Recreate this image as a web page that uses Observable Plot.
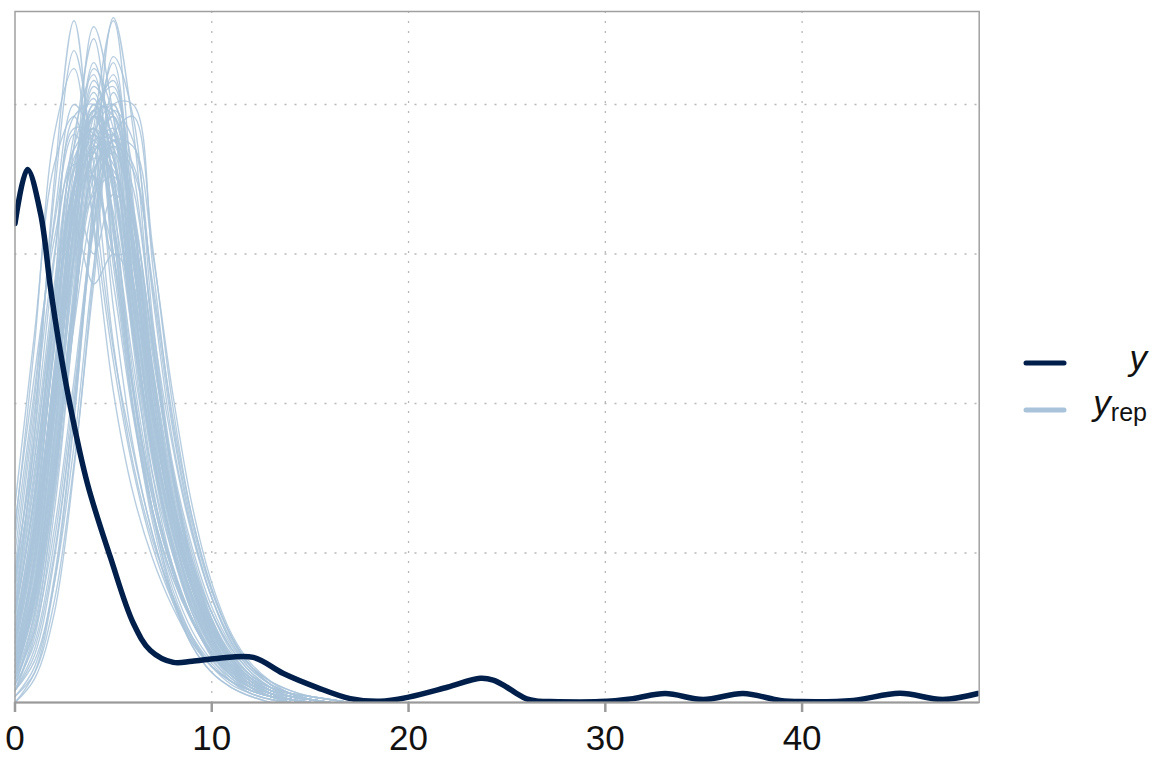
<!DOCTYPE html>
<html>
<head>
<meta charset="utf-8">
<script src="https://cdn.jsdelivr.net/npm/d3@7"></script>
<script src="https://cdn.jsdelivr.net/npm/@observablehq/plot@0.6"></script>
<style>
  html, body { margin: 0; padding: 0; background: #fff; }
  #wrap { position: relative; width: 1152px; height: 768px; }
  #legend { position: absolute; left: 0; top: 0; pointer-events: none; }
</style>
</head>
<body>
<div id="wrap"></div>
<script>
// ---------- data ----------
const X_TICKS = [0, 10, 20, 30, 40];
const X_GRID = [10, 20, 30, 40];
const Y_GRID = [0.05, 0.10, 0.15, 0.20];

const yObsX = [0, 0.63, 1.3, 1.8, 2.21, 2.82, 3.68, 4.85, 6.02, 6.88, 8.05, 9.0, 10.28, 12.11, 13.64, 15.36, 17.04,
  18.56, 20.0, 21.97, 23.64, 24.3, 25.0, 25.5, 26.0, 26.5, 27.2, 29.73, 31.4, 33.04, 34.97, 37.0, 38.88, 39.9, 42.6, 44.97, 47.15, 48.93];
const yObsD = [0.1602, 0.1783, 0.1635, 0.1388, 0.1211, 0.0987, 0.0732, 0.0485, 0.0264, 0.0174, 0.0134, 0.0138, 0.0147, 0.0151, 0.0097, 0.0050, 0.0013,
  0.0004, 0.0018, 0.0051, 0.0081, 0.0075, 0.0051, 0.0030, 0.0012, 0.0005, 0.0003, 0.0003, 0.0013, 0.0030, 0.0010, 0.0030, 0.0007, 0.0003, 0.0007, 0.0031, 0.0010, 0.0030];

// replicated densities, sampled at x = 0, 1, 2, ...
const repX = [0, 1, 2, 3, 4, 5, 6, 7, 8, 9, 10, 11, 12, 13, 14, 15, 16, 17];
const yrep = [
  [0.050,0.102,0.162,0.200,0.186,0.132,0.086,0.056,0.035,0.020,0.012,0.007,0.004,0.002,0.001,0],
  [0.040,0.095,0.170,0.218,0.180,0.120,0.080,0.054,0.036,0.022,0.013,0.007,0.003,0.001,0],
  [0.060,0.110,0.155,0.180,0.176,0.140,0.096,0.062,0.038,0.022,0.012,0.006,0.003,0.001,0],
  [0.030,0.090,0.175,0.228,0.170,0.118,0.084,0.056,0.034,0.019,0.010,0.005,0.002,0],
  [0.045,0.098,0.150,0.185,0.192,0.150,0.098,0.060,0.036,0.021,0.012,0.007,0.004,0.002,0.001,0],
  [0.055,0.105,0.160,0.190,0.175,0.150,0.105,0.064,0.036,0.019,0.010,0.005,0.002,0],
  [0.032,0.074,0.130,0.180,0.198,0.162,0.110,0.071,0.045,0.028,0.016,0.009,0.005,0.003,0.001,0],
  [0.024,0.066,0.128,0.190,0.210,0.158,0.100,0.064,0.042,0.027,0.016,0.009,0.005,0.002,0.001,0],
  [0.040,0.082,0.134,0.172,0.184,0.164,0.122,0.080,0.050,0.030,0.017,0.009,0.004,0.002,0],
  [0.020,0.060,0.122,0.186,0.222,0.170,0.104,0.064,0.040,0.024,0.014,0.008,0.004,0.002,0.001,0],
  [0.036,0.078,0.128,0.174,0.196,0.176,0.120,0.072,0.044,0.027,0.016,0.009,0.005,0.003,0.001,0],
  [0.028,0.070,0.136,0.196,0.200,0.150,0.104,0.070,0.046,0.028,0.015,0.007,0.003,0.001,0],
  [0.030,0.068,0.120,0.172,0.190,0.172,0.128,0.084,0.052,0.030,0.016,0.008,0.004,0.002,0.001,0],
  [0.044,0.086,0.140,0.182,0.192,0.156,0.106,0.068,0.044,0.028,0.017,0.010,0.006,0.003,0.002,0.001,0],
  [0.016,0.048,0.100,0.160,0.196,0.186,0.136,0.088,0.057,0.035,0.020,0.012,0.007,0.004,0.002,0.001,0],
  [0.012,0.042,0.094,0.160,0.212,0.196,0.132,0.082,0.052,0.032,0.019,0.011,0.006,0.003,0.001,0],
  [0.022,0.056,0.104,0.156,0.186,0.180,0.142,0.096,0.062,0.038,0.022,0.012,0.006,0.003,0.001,0],
  [0.010,0.040,0.098,0.170,0.226,0.196,0.124,0.076,0.046,0.028,0.016,0.009,0.005,0.002,0.001,0],
  [0.026,0.060,0.108,0.158,0.182,0.178,0.146,0.100,0.064,0.040,0.024,0.014,0.008,0.004,0.002,0.001,0],
  [0.014,0.050,0.106,0.166,0.200,0.182,0.132,0.088,0.058,0.036,0.021,0.011,0.005,0.002,0.001,0],
  [0.018,0.052,0.100,0.150,0.184,0.192,0.148,0.094,0.058,0.034,0.019,0.010,0.005,0.002,0],
  [0.008,0.036,0.090,0.162,0.206,0.192,0.138,0.090,0.058,0.036,0.021,0.012,0.007,0.004,0.002,0.001,0],
  [0.020,0.054,0.102,0.148,0.170,0.176,0.152,0.108,0.068,0.040,0.022,0.012,0.006,0.003,0.001,0],
  [0.012,0.046,0.104,0.172,0.214,0.184,0.128,0.084,0.054,0.033,0.019,0.010,0.005,0.002,0],
  [0.024,0.058,0.110,0.166,0.190,0.174,0.134,0.094,0.062,0.039,0.023,0.013,0.007,0.004,0.002,0.001,0],
  [0.016,0.046,0.096,0.158,0.200,0.196,0.140,0.086,0.052,0.031,0.018,0.010,0.005,0.002,0.001,0],
  [0.010,0.032,0.074,0.130,0.180,0.196,0.162,0.112,0.072,0.046,0.028,0.016,0.009,0.005,0.003,0.001,0],
  [0.006,0.026,0.068,0.128,0.186,0.214,0.164,0.104,0.066,0.042,0.026,0.015,0.008,0.004,0.002,0.001,0],
  [0.014,0.038,0.080,0.132,0.172,0.184,0.164,0.120,0.078,0.048,0.028,0.015,0.008,0.004,0.002,0.001,0],
  [0.004,0.022,0.064,0.128,0.192,0.228,0.168,0.100,0.060,0.038,0.024,0.014,0.008,0.004,0.002,0],
  [0.012,0.034,0.076,0.132,0.176,0.190,0.166,0.118,0.076,0.046,0.027,0.015,0.008,0.004,0.002,0.001,0],
  [0.008,0.030,0.072,0.136,0.190,0.200,0.154,0.104,0.068,0.044,0.027,0.016,0.009,0.005,0.003,0.002,0.001,0],
  [0.016,0.040,0.082,0.136,0.178,0.186,0.156,0.112,0.074,0.046,0.027,0.014,0.007,0.003,0.001,0],
  [0.006,0.028,0.074,0.140,0.196,0.208,0.156,0.100,0.064,0.040,0.024,0.013,0.007,0.003,0.001,0],
  [0.010,0.034,0.078,0.134,0.178,0.188,0.160,0.116,0.078,0.050,0.030,0.017,0.009,0.005,0.003,0.001,0],
  [0.012,0.036,0.076,0.126,0.168,0.188,0.172,0.124,0.078,0.046,0.026,0.014,0.007,0.003,0.001,0],
  [0.004,0.016,0.048,0.100,0.160,0.198,0.188,0.136,0.088,0.057,0.035,0.020,0.012,0.007,0.004,0.002,0.001,0],
  [0.002,0.012,0.042,0.096,0.164,0.216,0.196,0.128,0.080,0.052,0.032,0.019,0.011,0.006,0.003,0.001,0],
  [0.006,0.020,0.054,0.104,0.158,0.186,0.178,0.140,0.096,0.062,0.038,0.022,0.012,0.006,0.003,0.001,0],
  [0.000,0.010,0.040,0.094,0.170,0.229,0.192,0.122,0.076,0.048,0.030,0.018,0.010,0.005,0.002,0.001,0],
  [0.008,0.024,0.058,0.108,0.160,0.188,0.180,0.138,0.092,0.058,0.035,0.020,0.011,0.006,0.003,0.001,0],
  [0.004,0.018,0.050,0.100,0.166,0.204,0.178,0.126,0.086,0.056,0.035,0.021,0.012,0.007,0.004,0.002,0.001,0],
  [0.002,0.010,0.034,0.080,0.140,0.190,0.196,0.152,0.100,0.062,0.038,0.022,0.012,0.006,0.003,0.001,0],
  [0.004,0.014,0.040,0.086,0.146,0.188,0.186,0.150,0.104,0.066,0.040,0.023,0.013,0.007,0.003,0.001,0],
  [0.000,0.008,0.030,0.078,0.144,0.200,0.200,0.146,0.094,0.060,0.037,0.022,0.012,0.006,0.003,0.001,0],
  [0.066,0.124,0.180,0.196,0.160,0.114,0.078,0.052,0.034,0.021,0.012,0.007,0.004,0.002,0.001,0],
  [0.058,0.120,0.190,0.212,0.158,0.104,0.070,0.048,0.032,0.020,0.012,0.007,0.004,0.002,0],
  [0.020,0.060,0.120,0.170,0.150,0.170,0.160,0.110,0.068,0.040,0.022,0.012,0.006,0.003,0.001,0],
  [0.010,0.040,0.100,0.170,0.176,0.150,0.150,0.120,0.076,0.044,0.024,0.013,0.007,0.004,0.002,0.001,0],
  [0.030,0.070,0.128,0.160,0.140,0.150,0.140,0.100,0.068,0.046,0.030,0.018,0.010,0.005,0.002,0.001,0],
  [0.018,0.054,0.112,0.170,0.198,0.182,0.134,0.090,0.060,0.038,0.023,0.013,0.007,0.004,0.002,0.001,0],
  [0.026,0.064,0.118,0.172,0.196,0.172,0.126,0.086,0.056,0.035,0.021,0.012,0.007,0.004,0.003,0.002,0.001,0],
  [0.010,0.038,0.088,0.150,0.196,0.200,0.150,0.098,0.062,0.038,0.022,0.012,0.006,0.003,0.001,0],
  [0.034,0.076,0.134,0.186,0.202,0.160,0.106,0.068,0.044,0.028,0.017,0.010,0.006,0.003,0.001,0],
  [0.014,0.044,0.096,0.154,0.188,0.188,0.150,0.104,0.068,0.042,0.025,0.014,0.008,0.005,0.003,0.002,0.001,0],
  [0.006,0.030,0.080,0.148,0.198,0.206,0.152,0.098,0.062,0.038,0.022,0.012,0.006,0.003,0.001,0],
  [0.042,0.090,0.148,0.192,0.190,0.146,0.098,0.064,0.042,0.027,0.016,0.009,0.005,0.002,0.001,0],
  [0.020,0.056,0.110,0.164,0.192,0.182,0.140,0.096,0.062,0.038,0.021,0.011,0.005,0.002,0],
  [0.008,0.034,0.084,0.144,0.186,0.196,0.160,0.110,0.070,0.043,0.025,0.014,0.008,0.004,0.002,0.001,0],
  [0.030,0.070,0.124,0.174,0.192,0.170,0.124,0.084,0.054,0.034,0.020,0.011,0.006,0.003,0.001,0],
  [0.016,0.050,0.108,0.172,0.208,0.186,0.128,0.082,0.052,0.032,0.019,0.011,0.006,0.003,0.002,0.001,0],
  [0.012,0.040,0.090,0.148,0.184,0.190,0.156,0.108,0.070,0.044,0.026,0.014,0.007,0.003,0.001,0],
  [0.024,0.062,0.120,0.178,0.204,0.176,0.124,0.082,0.052,0.032,0.018,0.009,0.004,0.002,0.001,0],
  [0.004,0.024,0.070,0.136,0.190,0.210,0.164,0.106,0.066,0.041,0.025,0.015,0.009,0.005,0.003,0.001,0],
  [0.038,0.082,0.136,0.178,0.188,0.160,0.114,0.076,0.050,0.032,0.019,0.011,0.006,0.003,0.001,0],
  [0.010,0.036,0.086,0.152,0.198,0.198,0.148,0.098,0.064,0.040,0.024,0.014,0.008,0.004,0.002,0.001,0],
  [0.022,0.058,0.112,0.166,0.186,0.176,0.140,0.098,0.064,0.040,0.024,0.014,0.008,0.005,0.003,0.002,0.001,0],
  [0.014,0.048,0.104,0.164,0.196,0.190,0.142,0.092,0.058,0.036,0.021,0.012,0.006,0.003,0.001,0]
];

const DARK = "#011f4b";
const LIGHT = "#a9c4da";

// ---------- tables ----------
const obsRows = yObsX.map((x, i) => ({x, d: yObsD[i]}));
const repRows = [];
yrep.forEach((vals, r) => vals.forEach((d, i) => repRows.push({rep: r, x: repX[i], d})));

// ---------- plot ----------
const chart = Plot.plot({
  width: 1152,
  height: 768,
  marginLeft: 14.5,
  marginRight: 173.3,
  marginTop: 11,
  marginBottom: 66,
  style: {fontFamily: '"Liberation Sans", Arial, sans-serif', fontSize: "35px", color: "#111", background: "#fff"},
  x: {domain: [0, 49], label: null},
  y: {domain: [0, 0.2311], axis: null},
  marks: [
    Plot.gridX(X_GRID, {stroke: "#b8b8b8", strokeOpacity: 1, strokeWidth: 1.3, strokeDasharray: "2,8"}),
    Plot.gridY(Y_GRID, {stroke: "#b8b8b8", strokeOpacity: 1, strokeWidth: 1.3, strokeDasharray: "2,8"}),
    Plot.line(repRows, {x: "x", y: "d", z: "rep", stroke: LIGHT, strokeWidth: 1.4, strokeOpacity: 0.85, curve: "catmull-rom", clip: true}),
    Plot.line(obsRows, {x: "x", y: "d", stroke: DARK, strokeWidth: 5.5, curve: "catmull-rom", clip: true}),
    Plot.frame({stroke: "#a0a0a0", strokeWidth: 1.5}),
    Plot.ruleY([0], {stroke: "#9a9a9a", strokeWidth: 2}),
    Plot.axisX(X_TICKS, {tickSize: 10, tickPadding: 13, stroke: "#9a9a9a", strokeWidth: 2.5, fontSize: 35, label: null})
  ]
});
document.getElementById("wrap").appendChild(chart);

// ---------- legend ----------
const NS = "http://www.w3.org/2000/svg";
const leg = document.createElementNS(NS, "svg");
leg.setAttribute("id", "legend");
leg.setAttribute("width", 1152);
leg.setAttribute("height", 768);
leg.innerHTML = `
  <line x1="1026" x2="1064" y1="363" y2="363" stroke="${DARK}" stroke-width="5" stroke-linecap="round"/>
  <line x1="1026" x2="1064" y1="410" y2="410" stroke="${LIGHT}" stroke-width="5" stroke-linecap="round"/>
  <text x="1147" y="370" text-anchor="end" font-family="Liberation Sans, Arial, sans-serif" font-size="35" font-style="italic" fill="#111">y</text>
  <text x="1147" y="415" text-anchor="end" font-family="Liberation Sans, Arial, sans-serif" fill="#111"><tspan font-size="35" font-style="italic">y</tspan><tspan font-size="25" dy="6">rep</tspan></text>
`;
document.getElementById("wrap").appendChild(leg);
</script>
</body>
</html>
